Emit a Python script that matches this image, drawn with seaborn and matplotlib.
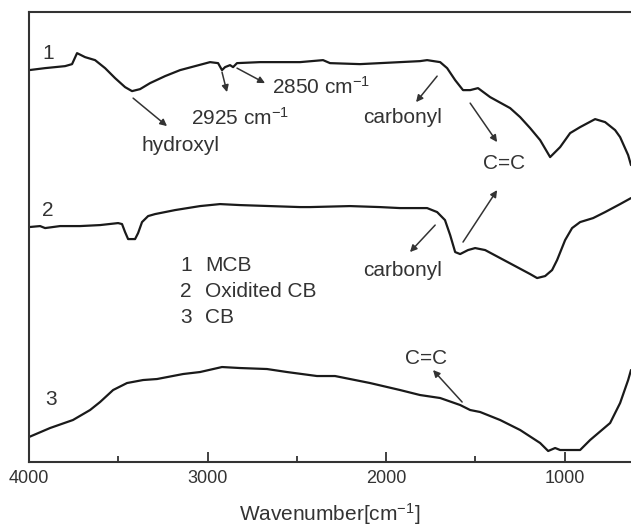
import seaborn as sns
import pandas as pd
import matplotlib.pyplot as plt

# FTIR spectra (wavenumber in cm-1, offset transmittance in a.u.)
wn_mcb = [4000, 3910, 3798, 3759, 3731, 3686, 3630, 3574, 3518, 3462, 3423, 3378,
          3322, 3238, 3154, 3070, 2986, 2941, 2919, 2902, 2874, 2857, 2835, 2706,
          2482, 2353, 2314, 2146, 1922, 1810, 1770, 1697, 1658, 1613, 1569, 1529,
          1485, 1417, 1305, 1249, 1193, 1137, 1081, 1025, 969, 913, 829, 773, 717,
          689, 644, 628]
val_mcb = [392, 394, 396, 398, 409, 405, 402, 394, 384, 375, 371, 373,
           379, 386, 392, 396, 400, 399, 392, 395, 397, 395, 399, 400,
           400, 402, 399, 398, 400, 401, 402, 400, 394, 382, 372, 372,
           374, 365, 354, 345, 334, 322, 305, 315, 329, 335, 343, 340, 332,
           325, 307, 297]

wn_ocb = [4000, 3938, 3910, 3826, 3714, 3602, 3501, 3479, 3462, 3445, 3406, 3389,
          3367, 3333, 3294, 3182, 3042, 2930, 2818, 2650, 2482, 2426, 2202, 2034,
          1922, 1770, 1714, 1670, 1641, 1613, 1585, 1541, 1501, 1445, 1361, 1277,
          1193, 1154, 1109, 1070, 1042, 997, 958, 913, 840, 773, 689, 628]
val_ocb = [235, 236, 234, 236, 236, 237, 239, 238, 230, 223, 223, 229,
           240, 246, 248, 252, 256, 258, 257, 256, 255, 255, 256, 255,
           254, 254, 250, 242, 227, 210, 208, 212, 214, 212, 204, 196,
           188, 184, 186, 192, 202, 222, 234, 240, 244, 250, 258, 264]

wn_cb = [4000, 3882, 3754, 3658, 3602, 3529, 3451, 3361, 3283, 3137, 3042, 2919,
         2818, 2667, 2555, 2387, 2286, 2090, 1922, 1810, 1697, 1585, 1529, 1473,
         1361, 1249, 1137, 1092, 1053, 1025, 913, 857, 745, 689, 644, 628]
val_cb = [25, 34, 42, 52, 60, 72, 79, 82, 83, 88, 90, 95,
          94, 93, 90, 86, 86, 79, 72, 67, 64, 57, 52, 50,
          42, 32, 19, 11, 14, 12, 12, 22, 39, 59, 82, 92]

samples = ["MCB", "Oxidited CB", "CB"]
curve_numbers = ["1", "2", "3"]

df = pd.concat([
    pd.DataFrame({"wavenumber": wn_mcb, "value": val_mcb, "sample": samples[0]}),
    pd.DataFrame({"wavenumber": wn_ocb, "value": val_ocb, "sample": samples[1]}),
    pd.DataFrame({"wavenumber": wn_cb, "value": val_cb, "sample": samples[2]}),
])

sns.set_theme(style="ticks")
plt.rcParams["font.family"] = ["Liberation Sans", "DejaVu Sans"]
plt.rcParams["mathtext.fontset"] = "custom"
plt.rcParams["mathtext.rm"] = "Liberation Sans"
plt.rcParams["mathtext.default"] = "regular"

fig = plt.figure(figsize=(6.31, 5.28), dpi=100)
ax = fig.add_axes([0.046, 0.125, 0.954, 0.852])

sns.lineplot(data=df, x="wavenumber", y="value", units="sample", estimator=None,
             sort=False, color="#1a1a1a", lw=1.6, ax=ax)

ax.set_xlim(4000, 628)
ax.set_ylim(0, 450)
ax.set_xticks([4000, 3000, 2000, 1000])
ax.set_xticks([3500, 2500, 1500], minor=True)
ax.set_yticks([])
ax.tick_params(axis="x", which="major", direction="in", length=7, width=1.3,
               labelsize=13, color="#333", labelcolor="#333", pad=6)
ax.tick_params(axis="x", which="minor", direction="in", length=4, width=1.3, color="#333")
for side in ["left", "bottom", "top"]:
    ax.spines[side].set_linewidth(1.5)
    ax.spines[side].set_color("#333")
ax.spines["right"].set_visible(False)
ax.set_xlabel("Wavenumber[cm$^{-1}$]", fontsize=15, color="#333", labelpad=10)
ax.set_ylabel("")

txt = dict(fontsize=15, color="#333")
arr = dict(arrowstyle="-|>", lw=1.1, color="#333", mutation_scale=10, shrinkA=0, shrinkB=0)

# curve numbers
ax.text(3894, 409, curve_numbers[0], ha="center", va="center", **txt)
ax.text(3894, 252, curve_numbers[1], ha="center", va="center", **txt)
ax.text(3877, 63, curve_numbers[2], ha="center", va="center", **txt)

# sample key
for i, (n, s) in enumerate(zip(curve_numbers, samples)):
    ax.text(3154, 197 - i * 26, n, ha="left", va="center", **txt)
    ax.text(3014, 197 - i * 26, s, ha="left", va="center", **txt)

# band annotations
ax.annotate("", xy=(3227, 336), xytext=(3417, 364), arrowprops=arr)
ax.text(3149, 317, "hydroxyl", ha="center", va="center", **txt)
ax.annotate("", xy=(2891, 370), xytext=(2919, 390), arrowprops=arr)
ax.text(2818, 344, "2925 cm$^{-1}$", ha="center", va="center", **txt)
ax.annotate("", xy=(2678, 379), xytext=(2835, 394), arrowprops=arr)
ax.text(2364, 375, "2850 cm$^{-1}$", ha="center", va="center", **txt)
ax.annotate("", xy=(1832, 360), xytext=(1714, 386), arrowprops=arr)
ax.text(1905, 345, "carbonyl", ha="center", va="center", **txt)
ax.annotate("", xy=(1378, 320), xytext=(1529, 359), arrowprops=arr)
ax.annotate("", xy=(1378, 272), xytext=(1569, 220), arrowprops=arr)
ax.text(1339, 299, "C=C", ha="center", va="center", **txt)
ax.annotate("", xy=(1866, 210), xytext=(1725, 237), arrowprops=arr)
ax.text(1905, 192, "carbonyl", ha="center", va="center", **txt)
ax.annotate("", xy=(1737, 92), xytext=(1574, 60), arrowprops=arr)
ax.text(1776, 104, "C=C", ha="center", va="center", **txt)

fig.savefig("out.png", dpi=100)
